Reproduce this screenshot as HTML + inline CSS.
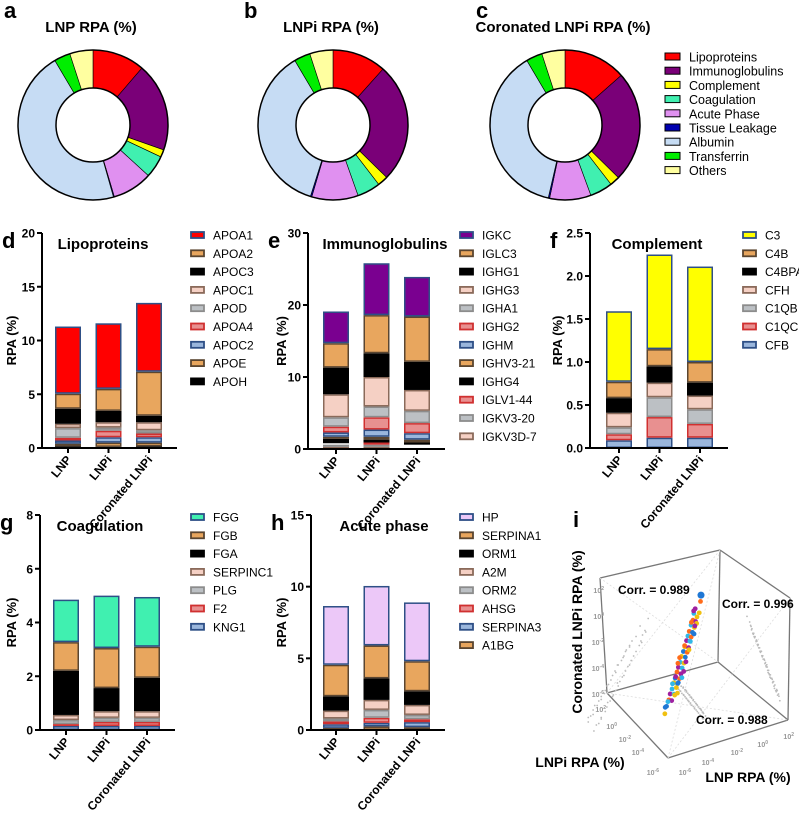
<!DOCTYPE html>
<html><head><meta charset="utf-8">
<style>
body{margin:0;background:#fff;}
svg{display:block;font-family:"Liberation Sans",Arial,sans-serif;}
.t{font-weight:bold;font-size:15px;}
.pl{font-weight:bold;font-size:22px;}
.tk{font-weight:bold;font-size:12px;}
.lg{font-size:12px;}
</style></head>
<body>
<svg id="fig" width="799" height="816" viewBox="0 0 799 816" xmlns="http://www.w3.org/2000/svg">
<g id="pies"></g>
<g id="bars"></g>
<g id="scat"></g>
</svg>
<script>
// ---------- pie data ----------
const pieCategories = ["Lipoproteins","Immunoglobulins","Complement","Coagulation","Acute Phase","Tissue Leakage","Albumin","Transferrin","Others"];
const pieLNP = [11.3,19.1,1.6,4.8,8.6,0.2,45.9,3.5,5.0];
const pieLNPi = [11.6,25.7,2.25,5.0,10.0,0.3,36.6,3.5,5.0];
const pieCor = [13.5,23.9,2.1,4.9,8.9,0.3,37.9,3.5,5.0];
const pieTitles = ["LNP RPA (%)","LNPi RPA (%)","Coronated LNPi  RPA (%)"];

// ---------- bar data (legend order = top -> bottom of stack) ----------
const barCats = ["LNP","LNPi","Coronated LNPi"];
const lipoNames = ["APOA1","APOA2","APOC3","APOC1","APOD","APOA4","APOC2","APOE","APOH"];
const lipoLNP = [6.25,1.4,1.4,0.4,0.9,0.25,0.3,0.25,0.15];
const lipoLNPi = [6.1,2.05,1.05,0.5,0.3,0.6,0.5,0.4,0.1];
const lipoCor = [6.4,4.1,0.6,0.75,0.3,0.35,0.5,0.35,0.15];
const lipoTicks = [0,5,10,15,20];

const igNames = ["IGKC","IGLC3","IGHG1","IGHG3","IGHA1","IGHG2","IGHM","IGHV3-21","IGHG4","IGLV1-44","IGKV3-20","IGKV3D-7"];
const igLNP = [4.4,3.4,3.7,3.2,1.3,0.8,0.6,0.3,0.6,0.2,0.3,0.3];
const igLNPi = [7.2,5.3,3.3,4.1,1.5,1.7,1.0,0.4,0.4,0.3,0.3,0.3];
const igCor = [5.5,6.3,3.9,2.9,1.7,1.4,0.9,0.4,0.3,0.2,0.2,0.2];
const igTicks = [0,10,20,30];

const compNames = ["C3","C4B","C4BPA","CFH","C1QB","C1QC","CFB"];
const compLNP = [0.82,0.19,0.17,0.17,0.08,0.07,0.09];
const compLNPi = [1.1,0.2,0.19,0.17,0.23,0.24,0.12];
const compCor = [1.11,0.24,0.15,0.16,0.17,0.16,0.12];
const compTicks = [0,0.5,1.0,1.5,2.0,2.5];

const coagNames = ["FGG","FGB","FGA","SERPINC1","PLG","F2","KNG1"];
const coagLNP = [1.58,1.07,1.64,0.19,0.15,0.07,0.15];
const coagLNPi = [1.95,1.49,0.86,0.25,0.15,0.15,0.15];
const coagCor = [1.85,1.16,1.24,0.25,0.15,0.15,0.15];
const coagTicks = [0,2,4,6,8];

const acuteNames = ["HP","SERPINA1","ORM1","A2M","ORM2","AHSG","SERPINA3","A1BG"];
const acuteLNP = [4.1,2.2,1.0,0.55,0.2,0.2,0.25,0.15];
const acuteLNPi = [4.15,2.3,1.5,0.7,0.55,0.35,0.25,0.25];
const acuteCor = [4.1,2.1,0.95,0.7,0.3,0.2,0.35,0.2];
const acuteTicks = [0,5,10,15];

// ---------- scatter data: log10 RPA values ----------
const scatLNP = [2.0,1.4,1.2,1.0,0.9,0.7,0.5,0.4,0.2,0.0,-0.2,-0.3,-0.5,-0.6,-0.8,-1.0,-1.1,-1.3,-1.5,-1.6,-1.8,-2.0,-2.1,-2.3,-2.5,-2.6,-2.8,-3.0,-3.2,-3.3,-3.5,-3.7,-3.8,-4.0,-4.2,-4.4,-4.6,-4.8,-5.0,-5.3,-1.2,-0.9,0.3,-2.7,-3.6,-1.9,-0.4,1.1,-4.1,-2.4,-3.9,-4.5,-2.9,-1.4,0.6,-0.1,-3.1,-5.1,-4.7,-2.2];
const scatLNPi = [2.0,1.0,1.6,0.5,1.3,1.1,0.0,0.9,-0.3,0.5,-0.8,0.2,-1.0,-0.1,-1.3,-0.5,-1.7,-0.8,-2.1,-1.0,-2.4,-1.5,-2.6,-1.7,-3.1,-2.0,-3.3,-2.4,-3.8,-2.7,-4.1,-3.1,-4.3,-3.3,-4.8,-3.8,-5.1,-4.1,-5.4,-4.7,-1.8,-0.3,-0.3,-3.4,-3.0,-1.2,-1.1,1.7,-4.8,-1.8,-4.6,-3.8,-2.3,-2.0,1.2,-0.7,-3.8,-4.4,-5.4,-2.9];
const scatCor = [2.1,1.6,1.3,0.9,1.0,0.6,0.6,0.3,0.3,-0.1,-0.1,-0.4,-0.4,-0.7,-0.7,-1.1,-1.0,-1.4,-1.4,-1.7,-1.7,-2.1,-2.0,-2.4,-2.4,-2.7,-2.7,-3.1,-3.1,-3.4,-3.4,-3.8,-3.7,-4.1,-4.0,-4.5,-4.4,-4.9,-4.8,-5.4,-1.0,-1.0,0.2,-2.9,-3.5,-1.8,-0.5,1.2,-4.3,-2.2,-3.7,-4.6,-3.0,-1.5,0.5,0.0,-3.3,-5.0,-4.5,-2.3];
const scatCol = [0,1,2,3,4,1,3,4,2,1,3,4,0,2,1,3,4,0,2,3,1,4,0,2,3,1,4,0,2,3,1,4,0,2,3,1,4,0,2,3,4,1,3,2,4,1,0,2,3,1,0,4,2,3,1,2,4,0,3,2];
const scatPalette = ["#1f77d4","#ff6b1a","#a020a0","#f0c010","#30b8e8"];

const NS="http://www.w3.org/2000/svg";
function mk(tag,attrs,parent){const e=document.createElementNS(NS,tag);for(const k in attrs)e.setAttribute(k,attrs[k]);if(parent)parent.appendChild(e);return e;}

// ---------- pies ----------
const pieCols=["#ff0000","#7a0078","#ffff00","#40f0b0","#e090f0","#0000b0","#c6dcf4","#00ee00","#ffffa0"];
const pies=document.getElementById('pies');
const pieData=[pieLNP,pieLNPi,pieCor];
const pieCx=[93,333,565], pieCy=125, R=75, r0=37;
const pieLetters=["a","b","c"];
pieData.forEach((vals,pi)=>{
  const g=mk('g',{},pies);
  
  
  const tot=vals.reduce((a,b)=>a+b,0);
  let a0=0;
  vals.forEach((v,i)=>{
    const a1=a0+v/tot*2*Math.PI;
    const cx=pieCx[pi];
    const p=(a,rr)=>[cx+rr*Math.sin(a),pieCy-rr*Math.cos(a)];
    const [x1,y1]=p(a0,R),[x2,y2]=p(a1,R),[x3,y3]=p(a1,r0),[x4,y4]=p(a0,r0);
    const lg=(a1-a0)>Math.PI?1:0;
    const s=mk('path',{d:`M${x1},${y1}A${R},${R} 0 ${lg} 1 ${x2},${y2}L${x3},${y3}A${r0},${r0} 0 ${lg} 0 ${x4},${y4}Z`,fill:pieCols[i],stroke:'#000','stroke-width':0.6},g);
    
    
    a0=a1;
  });
  mk('circle',{cx:pieCx[pi],cy:pieCy,r:R,fill:'none',stroke:'#000','stroke-width':1.5},g);
  mk('circle',{cx:pieCx[pi],cy:pieCy,r:r0,fill:'none',stroke:'#000','stroke-width':1.5},g);
  const t=mk('text',{x:pieCx[pi]-2,y:32,'text-anchor':'middle',class:'t'},g);t.textContent=pieTitles[pi];
  
  
  const L=mk('text',{x:[4,244,476][pi],y:18,class:'pl'},g);L.textContent=pieLetters[pi];
  
  
});
const pleg=mk('g',{},pies);


pieCategories.forEach((c,i)=>{
  const y=57+i*14.2;
  mk('rect',{x:665,y:y-4,width:15,height:7,fill:pieCols[i],stroke:'#000','stroke-width':1},pleg);
  const t=mk('text',{x:689,y:y+4.5,style:'font-size:12.5px'},pleg);t.textContent=c;
  
  
});

// ---------- bars ----------
const ST={red:["#ff0000","#2e4f86"],org:["#e8a65e","#5a4530"],blk:["#000","#000"],pnk:["#f5d0c4","#8a6a5a"],gry:["#bcc0c4","#8c8c8c"],lrd:["#e89090","#d03030"],lbl:["#9ab6dc","#2e4f86"],pur:["#7a0090","#2e4f86"],yel:["#ffff00","#2e4f86"],grn:["#40f0b0","#2e4f86"],lav:["#ecc8f8","#2e4f86"]};
const panels=[
 {L:"d",title:"Lipoproteins",names:lipoNames,data:[lipoLNP,lipoLNPi,lipoCor],ticks:lipoTicks,max:20,ax:42,x0:55,top:233,base:448,tx:103,lx:190,ylab:10,
  st:["red","org","blk","pnk","gry","lrd","lbl","org","blk"],fmt:v=>v},
 {L:"e",title:"Immunoglobulins",names:igNames,data:[igLNP,igLNPi,igCor],ticks:igTicks,max:30,ax:308,x0:323,top:233,base:449,tx:385,lx:459,ylab:280,
  st:["pur","org","blk","pnk","gry","lrd","lbl","org","blk","lrd","gry","pnk"],fmt:v=>v},
 {L:"f",title:"Complement",names:compNames,data:[compLNP,compLNPi,compCor],ticks:compTicks,max:2.5,ax:590,x0:606,top:233,base:448,tx:657,lx:742,ylab:556,
  st:["yel","org","blk","pnk","gry","lrd","lbl"],fmt:v=>v.toFixed(1)},
 {L:"g",title:"Coagulation",names:coagNames,data:[coagLNP,coagLNPi,coagCor],ticks:coagTicks,max:8,ax:40,x0:53,top:515,base:730,tx:100,lx:190,ylab:10,
  st:["grn","org","blk","pnk","gry","lrd","lbl"],fmt:v=>v},
 {L:"h",title:"Acute phase",names:acuteNames,data:[acuteLNP,acuteLNPi,acuteCor],ticks:acuteTicks,max:15,ax:311,x0:323,top:515,base:730,tx:384,lx:459,ylab:280,
  st:["lav","org","blk","pnk","gry","lrd","lbl","org"],fmt:v=>v}
];
const bars=document.getElementById('bars');
panels.forEach(P=>{
  const g=mk('g',{},bars);
  
  
  const yS=v=>P.base-(v/P.max)*(P.base-P.top);
  const bw=26, step=40.5;
  const xS=i=>P.x0+i*step;
  P.data.forEach((vals,bi)=>{
    let cum=0;
    for(let k=vals.length-1;k>=0;k--){
      const y1=yS(cum), y2=yS(cum+vals[k]);
      const s=ST[P.st[k]];
      const rc=mk('rect',{x:xS(bi)+0.75,y:y2+0.75,width:bw-1.5,height:Math.max(0,y1-y2-1.5),fill:s[0],stroke:s[1],'stroke-width':1.5},g);
      
      
      cum+=vals[k];
    }
  });
  const ax=P.ax, xEnd=xS(2)+bw+15;
  mk('line',{x1:ax,y1:P.top,x2:ax,y2:P.base,stroke:'#000','stroke-width':2},g);
  mk('line',{x1:ax-1,y1:P.base,x2:xEnd,y2:P.base,stroke:'#000','stroke-width':2},g);
  P.ticks.forEach(v=>{
    const y=yS(v);
    mk('line',{x1:ax-5,y1:y,x2:ax,y2:y,stroke:'#000','stroke-width':2},g);
    const t=mk('text',{x:ax-7,y:y+4.5,'text-anchor':'end',class:'tk'},g);t.textContent=P.fmt(v);
    
    
  });
  barCats.forEach((c,i)=>{
    const cx=xS(i)+bw/2;
    mk('line',{x1:cx,y1:P.base,x2:cx,y2:P.base+5,stroke:'#000','stroke-width':2},g);
    const t=mk('text',{x:cx+4,y:P.base+12,'text-anchor':'end',class:'tk',transform:`rotate(-50 ${cx+4} ${P.base+12})`},g);t.textContent=c;
    
    
  });
  const yl=mk('text',{x:P.ylab+6,y:(P.top+P.base)/2,'text-anchor':'middle',class:'tk',style:'font-size:13px',transform:`rotate(-90 ${P.ylab+6} ${(P.top+P.base)/2})`},g);
  yl.textContent="RPA (%)";
  
  
  const tt=mk('text',{x:P.tx,y:P.top+16,'text-anchor':'middle',class:'t'},g);tt.textContent=P.title;
  
  
  const pl=mk('text',{x:ax-40,y:P.top+15,class:'pl'},g);pl.textContent=P.L;
  
  
  P.names.forEach((n,i)=>{
    const y=P.top+2+i*18.3;
    const s=ST[P.st[i]];
    mk('rect',{x:P.lx+1,y:y-3,width:13,height:6,fill:s[0],stroke:s[1],'stroke-width':1.8},g);
    const t=mk('text',{x:P.lx+23,y:y+4.5,class:'lg'},g);t.textContent=n;
    
    
  });
});

// ---------- 3D scatter ----------
const sc=document.getElementById('scat');
const edges=[[600,578,720,550],[720,550,790,598],[790,598,788,720],[788,720,668,758],[668,758,607,693],[607,693,600,578],[607,693,718,662],[718,662,720,550],[718,662,788,720]];
edges.forEach(e=>mk('line',{x1:e[0],y1:e[1],x2:e[2],y2:e[3],stroke:'#777','stroke-width':1.3},sc));
[[607,693,720,550],[668,758,720,550],[668,758,790,598],[600,578,718,662],[607,693,788,720]].forEach(e=>mk('line',{x1:e[0],y1:e[1],x2:e[2],y2:e[3],stroke:'#ddd','stroke-width':0.8,'stroke-dasharray':'2,2'},sc));
// projection: x from LNP, offset from LNPi, y from coronated
const sxS=(l,p)=>692+4.5*l-5.5*(p-l);
const syS=(c,p)=>628-15.5*c+3*(p-c);
scatLNP.forEach((l,i)=>{
  const c=scatCor[i], p=scatLNPi[i];
  mk('circle',{cx:632+9*p*0.9,cy:650-15*c,r:0.9,fill:'#bbb'},sc);
  mk('circle',{cx:756-4.5*l,cy:640-15*c*0.75,r:0.9,fill:'#bbb'},sc);
  mk('circle',{cx:700+7*l-3*p,cy:712+3*l+2*p,r:0.9,fill:'#bbb'},sc);
});
scatLNP.forEach((l,i)=>{
  const c=scatCor[i], p=scatLNPi[i];
  const d=mk('circle',{cx:sxS(l,p),cy:syS(c,p),r:i===0?3.5:2.4,fill:scatPalette[scatCol[i]]},sc);
  
  
});
function tx(x,y,s,cls,extra){const t=mk('text',Object.assign({x:x,y:y,class:cls||''},extra||{}),sc);t.textContent=s;return t;}
let t;
t=tx(618,594,"Corr. = 0.989","tk");
t=tx(722,608,"Corr. = 0.996","tk");
t=tx(696,724,"Corr. = 0.988","tk");
t=tx(573,527,"i","pl");
t=tx(0,0,"Coronated LNPi RPA (%)","t",{transform:"translate(582,632) rotate(-90)","text-anchor":"middle",style:"font-size:14px"});

t=tx(580,767,"LNPi RPA (%)","t",{"text-anchor":"middle",style:"font-size:14px"});

t=tx(748,782,"LNP RPA (%)","t",{"text-anchor":"middle",style:"font-size:14px"});

const expLabels=["2","0","-2","-4","-6"];
function pow(x,y,e){const g=mk('text',{x:x,y:y,'text-anchor':'end',style:'font-size:7px;font-weight:bold;fill:#999'},sc);g.textContent="10";const s=mk('tspan',{dy:-3,style:'font-size:5px'},g);s.textContent=e;}
const zTickY=[593,619,645,671,697];
expLabels.forEach((e,i)=>pow(604,zTickY[i],e));
const lnpiTX=[606,617,631,644,659],lnpiTY=[712,729,742,755,775];
expLabels.forEach((e,i)=>pow(lnpiTX[i],lnpiTY[i],e));
const lnpTX=[794,768,743,714,691],lnpTY=[739,747,755,765,775];
expLabels.forEach((e,i)=>pow(lnpTX[i],lnpTY[i],e));
</script>
</body></html>
